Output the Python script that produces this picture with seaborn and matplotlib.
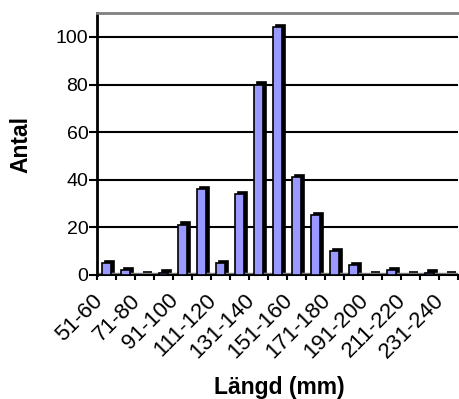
import matplotlib
matplotlib.use("Agg")
import matplotlib.pyplot as plt
import matplotlib.transforms as mtransforms
import seaborn as sns
import pandas as pd

categories = ["51-60", "61-70", "71-80", "81-90", "91-100", "101-110", "111-120",
              "121-130", "131-140", "141-150", "151-160", "161-170", "171-180",
              "181-190", "191-200", "201-210", "211-220", "221-230", "231-240"]
counts = [5, 2, 0, 1, 21, 36, 5, 34, 80, 104, 41, 25, 10, 4, 0, 2, 0, 1, 0]
yticks = [0, 20, 40, 60, 80, 100]

sns.set_style("white")
plt.rcParams['font.family'] = ['Liberation Sans', 'DejaVu Sans']
plt.rcParams.update({"text.color": "black", "axes.labelcolor": "black",
                     "xtick.color": "black", "ytick.color": "black"})

df = pd.DataFrame({"cat": categories, "n": counts})

fig = plt.figure(figsize=(4.6, 3.99), dpi=100)
ax = fig.add_axes([0.211, 0.311, 0.785, 0.656])

# depth (shadow) bars in black, shifted right/up for 3D look
sns.barplot(data=df, x="cat", y="n", color="black", width=0.48, ax=ax,
            saturation=1, edgecolor="black", linewidth=1.2, zorder=3)
n_shadow = len(ax.patches)
shift = mtransforms.offset_copy(ax.transData, fig=fig, x=3.0, y=2.5, units='dots')
for p in ax.patches[:n_shadow]:
    p.set_transform(shift)
# front bars
sns.barplot(data=df, x="cat", y="n", color="#9999ff", width=0.48, ax=ax,
            saturation=1, edgecolor="black", linewidth=1.2, zorder=4)

ax.set_ylim(0, 110)
ax.set_xlim(-0.5, len(categories) - 0.5)
ax.set_yticks(yticks)
ax.set_yticklabels([str(v) for v in yticks], fontsize=14, color="black")
for v in yticks[1:]:
    ax.axhline(v, color="black", lw=1.5, zorder=1)

# floor
ax.axhspan(-0.3, 0.9, color="#808080", zorder=2)

# tick marks at category boundaries, labels on every other category
ax.set_xticks([i - 0.5 for i in range(len(categories) + 1)])
ax.set_xticklabels([""] * (len(categories) + 1))
lbl_tr = mtransforms.offset_copy(ax.get_xaxis_transform(), fig=fig,
                                 x=-15, y=-15, units='dots')
for i in range(0, len(categories), 2):
    ax.text(i, 0, categories[i], transform=lbl_tr, rotation=45, ha="right",
            va="top", rotation_mode="anchor", fontsize=16, color="black",
            clip_on=False)

ax.tick_params(axis="x", direction="out", length=3.8, width=1.5,
               color="black", bottom=True)
ax.tick_params(axis="y", direction="out", length=5.5, width=1.5, color="black",
               left=True, pad=0.8)

ax.spines["right"].set_visible(False)
ax.spines["top"].set_color("#808080")
ax.spines["top"].set_linewidth(2)
ax.spines["left"].set_color("black")
ax.spines["left"].set_linewidth(2)
ax.spines["bottom"].set_color("black")
ax.spines["bottom"].set_linewidth(1.5)

ax.set_xlabel("Längd (mm)", fontsize=16.5, fontweight="bold", color="black")
ax.xaxis.set_label_coords(0.504, -0.385)
ax.set_ylabel("Antal", fontsize=16.5, fontweight="bold", color="black")
ax.yaxis.set_label_coords(-0.178, 0.497)

fig.savefig("out.png", dpi=100)
